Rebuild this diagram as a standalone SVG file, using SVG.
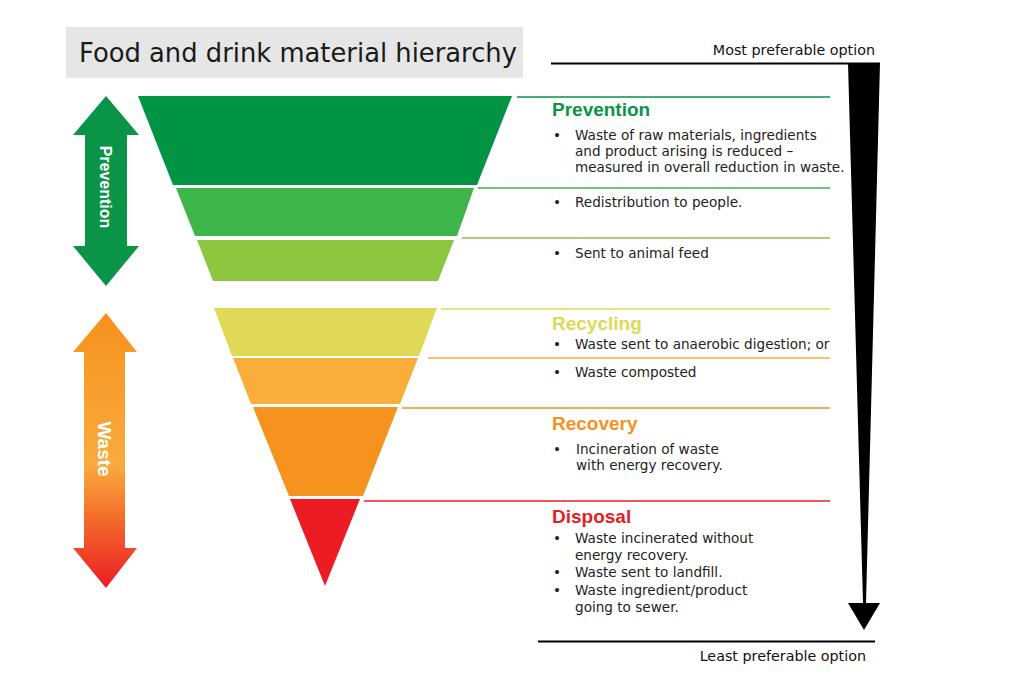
<svg xmlns="http://www.w3.org/2000/svg" width="1024" height="689" viewBox="0 0 1024 689">
<defs>
<style>
.t{font-family:"DejaVu Sans","Liberation Sans",sans-serif;font-size:13.6px;fill:#222}
.h{font-family:"Liberation Sans",Arial,sans-serif;font-size:19px;font-weight:bold}
.lbl{font-family:"Liberation Sans",Arial,sans-serif;font-weight:bold;fill:#fff}
.end{font-family:"DejaVu Sans","Liberation Sans",sans-serif;font-size:14.3px;fill:#111;text-anchor:end}
</style>
<linearGradient id="wg" gradientUnits="userSpaceOnUse" x1="0" y1="313" x2="0" y2="588">
<stop offset="0" stop-color="#f6921e"/>
<stop offset="0.55" stop-color="#f9ab3e"/>
<stop offset="0.75" stop-color="#f26b2a"/>
<stop offset="1" stop-color="#ec1c24"/>
</linearGradient>
</defs>
<rect width="1024" height="689" fill="#fff"/>

<g id="title">
<rect x="66" y="27" width="457" height="51" fill="#e6e6e6"/>
<text x="79" y="62" style="font-family:'DejaVu Sans','Liberation Sans',sans-serif;font-size:25.8px;fill:#1a1a1a">Food and drink material hierarchy</text>
</g>

<g id="arrow-prevention">
<polygon points="106,96 139,135 127,135 127,246 139,246 106,286 73,246 85,246 85,135 73,135" fill="#0a9447"/>
<text class="lbl" transform="translate(106,187) rotate(90)" x="0" y="6" text-anchor="middle" font-size="16">Prevention</text>
</g>

<g id="arrow-waste">
<polygon points="106,313 137,352 125,352 125,548 137,548 106,588 73,548 84,548 84,352 73,352" fill="url(#wg)"/>
<text class="lbl" transform="translate(105,449) rotate(90)" x="0" y="7" text-anchor="middle" font-size="19">Waste</text>
</g>

<g id="funnel">
<polygon id="band-prevention" points="138,96 512,96 477,185 173,185" fill="#009444"/>
<polygon id="band-redistribution" points="176,188 474,188 457,236 195,236" fill="#3db54a"/>
<polygon id="band-animal" points="197,240 454,240 438,281 213,281" fill="#8dc63f"/>
<polygon id="band-recycling" points="214,308 437,308 419,356 232,356" fill="#dfd957"/>
<polygon id="band-composted" points="233,358 418,358 400,404 251,404" fill="#f9ae3b"/>
<polygon id="band-recovery" points="253,407 398,407 363,496 289,496" fill="#f6921e"/>
<polygon id="band-disposal" points="290,499 360,499 325,586" fill="#ed1c24"/>
</g>

<g id="connectors" stroke-width="1.6" fill="none">
<line x1="517" y1="97" x2="830" y2="97" stroke="#009444"/>
<line x1="478" y1="188" x2="830" y2="188" stroke="#3db54a"/>
<line x1="462" y1="238" x2="830" y2="238" stroke="#8dc63f"/>
<line x1="441" y1="309" x2="830" y2="309" stroke="#dfd957"/>
<line x1="428" y1="358" x2="830" y2="358" stroke="#f9ae3b"/>
<line x1="402" y1="408" x2="830" y2="408" stroke="#f6921e"/>
<line x1="364" y1="501" x2="830" y2="501" stroke="#ed1c24"/>
</g>

<g id="text-prevention">
<text class="h" x="552" y="116" fill="#0a9447">Prevention</text>
<text class="t" x="553" y="140">•</text>
<text class="t" x="575" y="140">Waste of raw materials, ingredients</text>
<text class="t" x="575" y="156">and product arising is reduced –</text>
<text class="t" x="575" y="172">measured in overall reduction in waste.</text>
</g>
<g id="text-redistribution">
<text class="t" x="553" y="207">•</text>
<text class="t" x="575" y="207">Redistribution to people.</text>
</g>
<g id="text-animal">
<text class="t" x="553" y="258">•</text>
<text class="t" x="575" y="258">Sent to animal feed</text>
</g>
<g id="text-recycling">
<text class="h" x="552" y="330" fill="#dcd955">Recycling</text>
<text class="t" x="553" y="349">•</text>
<text class="t" x="575" y="349">Waste sent to anaerobic digestion; or</text>
</g>
<g id="text-composted">
<text class="t" x="553" y="377">•</text>
<text class="t" x="575" y="377">Waste composted</text>
</g>
<g id="text-recovery">
<text class="h" x="552" y="430" fill="#f6921e">Recovery</text>
<text class="t" x="553" y="454">•</text>
<text class="t" x="576" y="454">Incineration of waste</text>
<text class="t" x="576" y="470">with energy recovery.</text>
</g>
<g id="text-disposal">
<text class="h" x="552" y="523" fill="#e31e26">Disposal</text>
<text class="t" x="553" y="543">•</text>
<text class="t" x="575" y="543">Waste incinerated without</text>
<text class="t" x="575" y="560">energy recovery.</text>
<text class="t" x="553" y="577">•</text>
<text class="t" x="575" y="577">Waste sent to landfill.</text>
<text class="t" x="553" y="595">•</text>
<text class="t" x="575" y="595">Waste ingredient/product</text>
<text class="t" x="575" y="612">going to sewer.</text>
</g>

<g id="scale">
<text class="end" x="875" y="55">Most preferable option</text>
<line x1="551" y1="63.5" x2="880" y2="63.5" stroke="#000" stroke-width="2"/>
<polygon points="848,63 880,63 866,603 880,603 864,630 848,603 863,603" fill="#000"/>
<line x1="538" y1="641.5" x2="875" y2="641.5" stroke="#000" stroke-width="2"/>
<text class="end" x="866" y="661">Least preferable option</text>
</g>
</svg>
